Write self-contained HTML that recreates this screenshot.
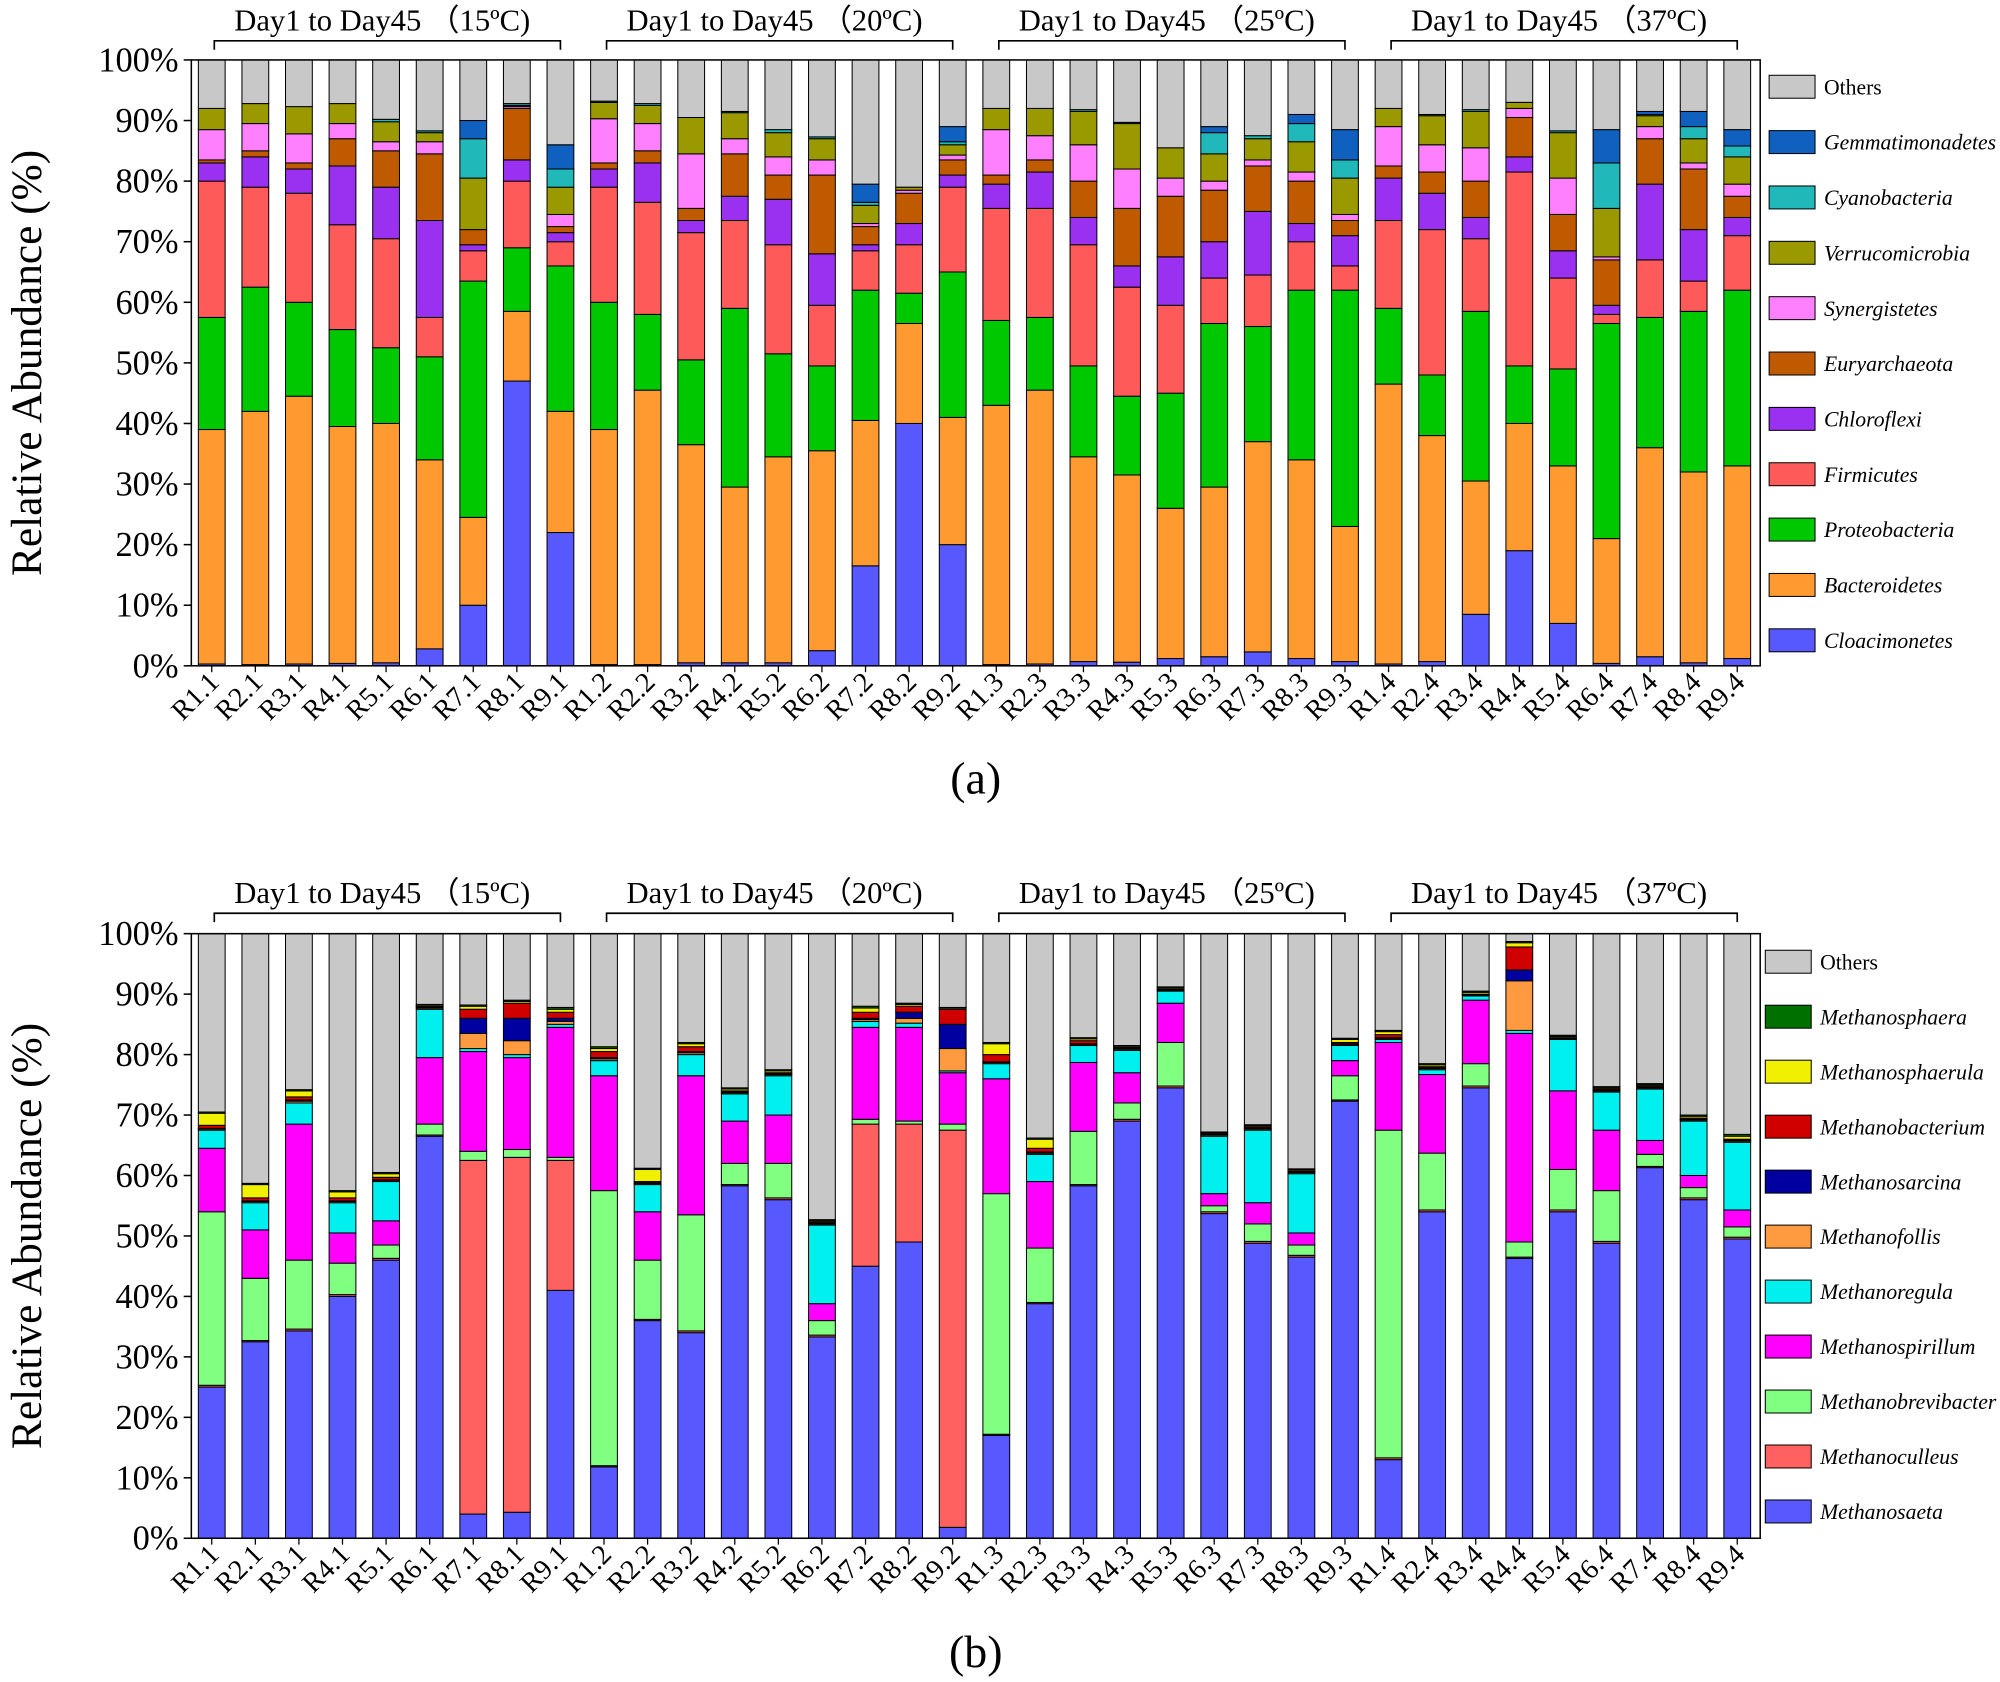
<!DOCTYPE html>
<html><head><meta charset="utf-8">
<style>
html,body{margin:0;padding:0;background:#fff;}
svg{display:block;}
svg text{font-family:"Liberation Serif","DejaVu Serif",serif;}
</style></head>
<body>
<svg id="chart" width="2000" height="1682" viewBox="0 0 1568 1318.7" xmlns="http://www.w3.org/2000/svg" font-family="Liberation Serif, serif"></svg>
<script>
const categories = ["R1.1","R2.1","R3.1","R4.1","R5.1","R6.1","R7.1","R8.1","R9.1","R1.2","R2.2","R3.2","R4.2","R5.2","R6.2","R7.2","R8.2","R9.2","R1.3","R2.3","R3.3","R4.3","R5.3","R6.3","R7.3","R8.3","R9.3","R1.4","R2.4","R3.4","R4.4","R5.4","R6.4","R7.4","R8.4","R9.4"];
const groupLabels = ["Day1 to Day45 （15ºC)","Day1 to Day45 （20ºC)","Day1 to Day45 （25ºC)","Day1 to Day45 （37ºC)"];
const yTicks = [0,10,20,30,40,50,60,70,80,90,100];
const seriesA = ["Cloacimonetes","Bacteroidetes","Proteobacteria","Firmicutes","Chloroflexi","Euryarchaeota","Synergistetes","Verrucomicrobia","Cyanobacteria","Gemmatimonadetes","Others"];
const colorsA = ["#5858ff","#ff9a30","#00c800","#ff5a5a","#9a30f0","#c05a00","#ff80ff","#9a9a00","#20b8b8","#1060c0","#c8c8c8"];
const seriesB = ["Methanosaeta","Methanoculleus","Methanobrevibacter","Methanospirillum","Methanoregula","Methanofollis","Methanosarcina","Methanobacterium","Methanosphaerula","Methanosphaera","Others"];
const colorsB = ["#5858ff","#ff6060","#80ff80","#ff00ff","#00f0f0","#ff9a40","#0000a0","#d00000","#f0f000","#007000","#c8c8c8"];
const topsA = [
[0.3,39,57.5,80,83,83.5,88.5,92,92,92],
[0.2,42,62.5,79,84,85,89.5,92.8,92.8,92.8],
[0.3,44.5,60,78,82,83,87.8,92.3,92.3,92.3],
[0.4,39.5,55.5,72.8,82.5,87,89.5,92.8,92.8,92.8],
[0.5,40,52.5,70.5,79,85,86.5,89.8,90.2,90.2],
[2.8,34,51,57.5,73.5,84.5,86.5,88,88.3,88.3],
[10,24.5,63.5,68.5,69.5,72,72,80.5,87,90],
[47,58.5,69,80,83.5,92,92.3,92.5,92.8,92.8],
[22,42,66,70,71.5,72.5,74.5,79,82,86],
[0.2,39,60,79,82,83,90.3,93,93.2,93.2],
[0.2,45.5,58,76.5,83,85,89.5,92.5,92.8,92.8],
[0.5,36.5,50.5,71.5,73.5,75.5,84.5,90.5,90.5,90.5],
[0.5,29.5,59,73.5,77.5,84.5,87,91.3,91.5,91.5],
[0.5,34.5,51.5,69.5,77,81,84,88,88.5,88.5],
[2.5,35.5,49.5,59.5,68,81,83.5,87,87.3,87.3],
[16.5,40.5,62,68.5,69.5,72.5,73,76,76.5,79.5],
[40,56.5,61.5,69.5,73,78,78.5,79,79,79],
[20,41,65,79,81,83.5,84.3,86,86.5,89],
[0.2,43,57,75.5,79.5,81,88.5,92,92,92],
[0.3,45.5,57.5,75.5,81.5,83.5,87.5,92,92,92],
[0.7,34.5,49.5,69.5,74,80,86,91.5,91.8,91.8],
[0.6,31.5,44.5,62.5,66,75.5,82,89.5,89.7,89.7],
[1.2,26,45,59.5,67.5,77.5,80.5,85.5,85.5,85.5],
[1.5,29.5,56.5,64,70,78.5,80,84.5,88,89],
[2.3,37,56,64.5,75,82.5,83.5,87,87.5,87.5],
[1.2,34,62,70,73,80,81.5,86.5,89.5,91],
[0.7,23,62,66,71,73.5,74.5,80.5,83.5,88.5],
[0.3,46.5,59,73.5,80.5,82.5,89,92,92,92],
[0.7,38,48,72,78,81.5,86,90.8,91,91],
[8.5,30.5,58.5,70.5,74,80,85.5,91.5,91.8,91.8],
[19,40,49.5,81.5,84,90.5,92,93,93,93],
[7,33,49,64,68.5,74.5,80.5,88,88.3,88.3],
[0.4,21,56.5,58,59.5,67,67.5,75.5,83,88.5],
[1.5,36,57.5,67,79.5,87,89,90.8,91,91.5],
[0.5,32,58.5,63.5,72,82,83,87,89,91.5],
[1.2,33,62,71,74,77.5,79.5,84,85.8,88.5]];
const topsB = [
[25,25.3,54,64.5,67.5,67.7,67.8,68.3,70.3,70.5],
[32.5,32.7,43,51,55.5,55.7,55.8,56.3,58.5,58.7],
[34.3,34.6,46,68.5,72,72.3,72.5,73,74,74.2],
[40,40.3,45.5,50.5,55.5,55.7,55.8,56.3,57.3,57.5],
[46,46.3,48.5,52.5,59,59.2,59.3,59.7,60.3,60.5],
[66.5,66.7,68.5,79.5,87.5,87.7,87.8,88,88.2,88.3],
[4,62.5,64,80.5,81,83.5,86,87.5,88,88.2],
[4.3,63,64.3,79.5,80,82.3,86,88.5,88.8,89],
[41,62.5,63,84.5,85,85.5,86,87,87.5,87.8],
[11.8,12,57.5,76.5,79,79.3,79.5,80.5,81,81.3],
[36,36.2,46,54,58.5,58.7,58.8,59,61,61.2],
[34,34.3,53.5,76.5,80,80.3,80.5,81.3,81.8,82],
[58.3,58.5,62,69,73.5,73.7,73.8,74,74.3,74.5],
[56,56.3,62,70,76.5,76.7,76.8,77,77.3,77.5],
[33.3,33.6,36,38.8,51.8,52,52.1,52.3,52.5,52.7],
[45,68.5,69.3,84.5,85.5,85.8,86,87,87.7,88],
[49,68.5,69,84.5,85.2,86,87,88,88.3,88.5],
[1.8,67.5,68.5,77,77.3,81,85,87.5,87.7,87.8],
[17,17.2,57,76,78.5,78.7,78.8,80,81.8,82],
[38.8,39,48,59,63.5,63.7,63.9,64.5,66,66.2],
[58.3,58.5,67.3,78.7,81.5,81.7,81.8,82.3,82.6,82.8],
[69,69.3,72,77,80.7,80.9,81,81.2,81.4,81.5],
[74.5,74.8,82,88.5,90.5,90.6,90.7,90.8,91,91.2],
[53.7,54,55,57,66.5,66.7,66.8,67,67.1,67.2],
[48.8,49.1,52,55.5,67.5,67.7,67.8,68,68.2,68.4],
[46.5,46.8,48.5,50.5,60.3,60.5,60.6,60.8,61,61.1],
[72.3,72.5,76.5,79,81.5,81.7,81.8,82,82.5,82.7],
[13,13.3,67.5,82,82.5,82.7,82.8,83.3,83.8,84],
[54,54.3,63.7,76.7,77.5,77.7,77.8,78,78.3,78.5],
[74.5,74.8,78.5,89,89.7,89.8,89.9,90,90.3,90.5],
[46.3,46.5,49,83.5,84,92.2,94,97.8,98.5,98.7],
[54,54.3,61,74,82.5,82.6,82.7,82.8,83,83.2],
[48.8,49.1,57.5,67.5,73.8,74,74.1,74.3,74.5,74.7],
[61.3,61.5,63.5,65.8,74.3,74.5,74.6,74.8,75,75.2],
[56,56.3,58,60,69,69.2,69.3,69.5,69.8,70],
[49.5,49.8,51.5,54.3,65.5,65.7,65.8,66,66.5,66.8]];

const NS="http://www.w3.org/2000/svg";
const svg=document.getElementById('chart');
function mk(tag,attrs,parent,text){const e=document.createElementNS(NS,tag);for(const k in attrs)e.setAttribute(k,attrs[k]);if(text!==undefined){e.setAttribute('font-family','Liberation Serif, serif');e.textContent=text;}(parent||svg).appendChild(e);return e;}

function panel(cfg){
  const g=mk('g',{});
  
  
  const x0=150,x1=1380,yb=cfg.y0,yt=cfg.y100;
  const yS=v=>yb+(yt-yb)*v/100;
  const firstC=166,step=(1362-166)/35,bw=21;
  const xS=i=>firstC+i*step;
  cfg.tops.forEach((row,i)=>{
    let prev=0;
    const full=row.concat([100]);
    full.forEach((t,s)=>{
      const h=t-prev;
      if(h>0){
        const r=mk('rect',{x:xS(i)-bw/2,y:yS(t),width:bw,height:yS(prev)-yS(t),fill:cfg.colors[s],stroke:'#000','stroke-width':0.8},g);
        
        
      }
      prev=Math.max(prev,t);
    });
  });
  const fr=mk('rect',{x:x0,y:yt,width:x1-x0,height:yb-yt,fill:'none',stroke:'#000','stroke-width':1.2},g);
  
  
  yTicks.forEach(v=>{
    mk('line',{x1:x0-6,x2:x0,y1:yS(v),y2:yS(v),stroke:'#000','stroke-width':1.2},g);
    const t=mk('text',{x:x0-10,y:yS(v)+9,'text-anchor':'end','font-size':27},g,v+'%');
    
    
  });
  const yt2=mk('text',{x:0,y:0,'text-anchor':'middle','font-size':34,transform:`translate(32,${(yb+yt)/2}) rotate(-90)`},g,'Relative Abundance (%)');
  
  
  categories.forEach((c,i)=>{
    mk('line',{x1:xS(i),x2:xS(i),y1:yb,y2:yb+5,stroke:'#000','stroke-width':1},g);
    const t=mk('text',{x:0,y:0,'text-anchor':'end','font-size':22,transform:`translate(${xS(i)+7},${yb+14}) rotate(-45)`},g,c);
    
    
  });
  groupLabels.forEach((lab,k)=>{
    const a=xS(k*9)+2,b=xS(k*9+8),by=cfg.brY;
    mk('path',{d:`M${a},${by+7}V${by}H${b}V${by+7}`,fill:'none',stroke:'#000','stroke-width':1.3},g);
    const t=mk('text',{x:(a+b)/2-4,y:by-8,'text-anchor':'middle','font-size':24},g,lab);
    
    
  });
  const n=cfg.series.length;
  for(let j=0;j<n;j++){
    const s=n-1-j;
    const ly=cfg.legTop+j*cfg.legStep;
    const r=mk('rect',{x:cfg.legX,y:ly-9,width:36,height:18,fill:cfg.colors[s],stroke:'#000','stroke-width':0.8},g);
    
    
    const t=mk('text',{x:cfg.legX+43,y:ly+6,'font-size':17,'font-style':s===10?'normal':'italic'},g,cfg.series[s]);
    
    
  }
  const pl=mk('text',{x:765,y:cfg.panelY,'text-anchor':'middle','font-size':36},g,cfg.panelLabel);
  
  
}
panel({name:'chart-a',tops:topsA,series:seriesA,colors:colorsA,y0:522,y100:47,brY:32,legX:1387,legTop:68,legStep:43.4,panelY:622,panelLabel:'(a)'});
panel({name:'chart-b',tops:topsB,series:seriesB,colors:colorsB,y0:1206,y100:732,brY:716,legX:1384,legTop:754,legStep:43.1,panelY:1307,panelLabel:'(b)'});
</script>
</body></html>
